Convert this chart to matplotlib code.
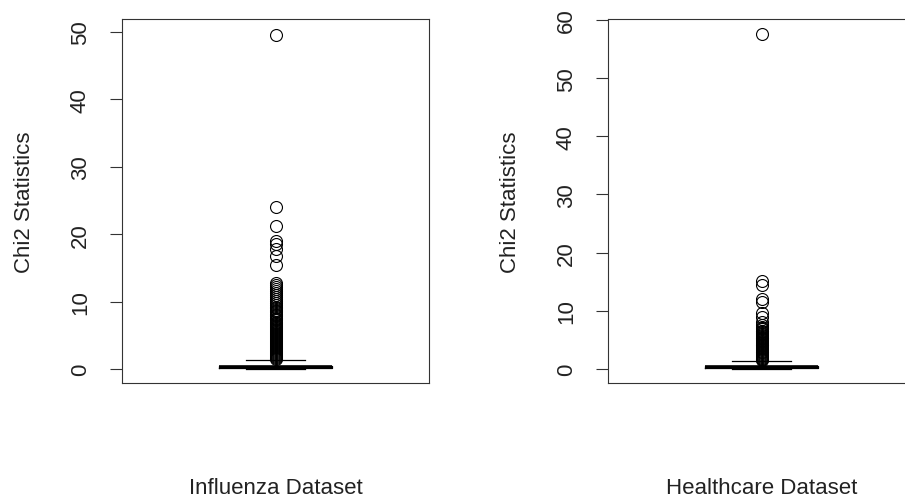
import matplotlib
matplotlib.use("Agg")
import matplotlib.pyplot as plt

plt.rcParams['font.family'] = ['Liberation Sans', 'DejaVu Sans']

# ---- data ----
panel_labels = ["Influenza Dataset", "Healthcare Dataset"]
y_label = "Chi2 Statistics"

flu_whislo, flu_q1, flu_med, flu_q3, flu_whishi = 0.0, 0.1, 0.3, 0.5, 1.35
flu_fliers = [49.5, 24.0, 21.2, 19.0, 18.5, 17.8, 16.7, 15.4,
              12.8, 12.5, 12.2, 11.9, 11.6, 11.3, 11.0, 10.7, 10.4, 10.1,
              9.8, 9.5, 9.2, 9.0, 8.8, 8.6, 8.4, 8.2, 8.0, 7.8, 7.6, 7.4,
              7.2, 7.0, 6.85, 6.7, 6.55, 6.4, 6.25, 6.1, 5.95, 5.8, 5.65,
              5.5, 5.35, 5.2, 5.05, 4.9, 4.75, 4.6, 4.45, 4.3, 4.15, 4.0,
              3.85, 3.7, 3.55, 3.4, 3.25, 3.1, 2.95, 2.8, 2.65, 2.5, 2.35,
              2.2, 2.05, 1.9, 1.75, 1.6, 1.45]
flu_yticks = [0, 10, 20, 30, 40, 50]

hc_whislo, hc_q1, hc_med, hc_q3, hc_whishi = 0.0, 0.1, 0.3, 0.5, 1.4
hc_fliers = [57.6, 15.1, 14.4, 12.1, 11.5, 9.7, 9.0, 8.1, 7.6, 7.3, 7.0,
             6.8, 6.6, 6.45, 6.3, 6.15, 6.0, 5.85, 5.7, 5.55, 5.4, 5.25,
             5.1, 4.95, 4.8, 4.65, 4.5, 4.35, 4.2, 4.05, 3.9, 3.75, 3.6,
             3.45, 3.3, 3.15, 3.0, 2.85, 2.7, 2.55, 2.4, 2.25, 2.1, 1.95,
             1.8, 1.65, 1.5]
hc_yticks = [0, 10, 20, 30, 40, 50, 60]

# ---- layout ----
W, H = 905, 502
fig = plt.figure(figsize=(W / 100, H / 100), dpi=100)
FS = 16


def px_axes(x0, y0, x1, y1):
    return fig.add_axes([x0 / W, (H - y1) / H, (x1 - x0) / W, (y1 - y0) / H])


def draw(ax, stats, yticks, ylim, xlabel):
    ax.bxp([stats], positions=[1], widths=0.37, showfliers=True,
           boxprops=dict(color='black', linewidth=0.9),
           medianprops=dict(color='black', linewidth=2.6, solid_capstyle='butt'),
           whiskerprops=dict(color='black', linewidth=0.9, linestyle=(0, (3, 3))),
           capprops=dict(color='black', linewidth=0.9),
           flierprops=dict(marker='o', markerfacecolor='none',
                           markeredgecolor='black', markersize=8.6,
                           markeredgewidth=0.8, linestyle='none'),
           capwidths=0.19)
    ax.set_xlim(0.5, 1.5)
    ax.set_ylim(*ylim)
    ax.set_xticks([])
    ax.set_yticks(yticks)
    ax.set_yticklabels([str(t) for t in yticks], rotation=90, va='center',
                       fontsize=FS, color='#222222')
    ax.tick_params(axis='y', length=9, width=0.8, pad=13.5, color='#333333')
    for s in ax.spines.values():
        s.set_linewidth(0.8)
        s.set_color('#333333')
    ax.set_ylabel(y_label, fontsize=FS, color='#222222')
    ax.yaxis.set_label_coords(-0.283, 0.5)
    ax.set_xlabel(xlabel, fontsize=FS, color='#222222')
    ax.xaxis.label.set_va('baseline')
    ax.xaxis.set_label_coords(0.5, -0.302)


ax1 = px_axes(122, 20, 429, 384)
draw(ax1, dict(med=flu_med, q1=flu_q1, q3=flu_q3, whislo=flu_whislo,
               whishi=flu_whishi, fliers=flu_fliers),
     flu_yticks, (-2.08, 51.93), panel_labels[0])

ax2 = px_axes(608, 20, 915, 384)
draw(ax2, dict(med=hc_med, q1=hc_q1, q3=hc_q3, whislo=hc_whislo,
               whishi=hc_whishi, fliers=hc_fliers),
     hc_yticks, (-2.41, 60.17), panel_labels[1])

fig.savefig("out.png", dpi=100)
